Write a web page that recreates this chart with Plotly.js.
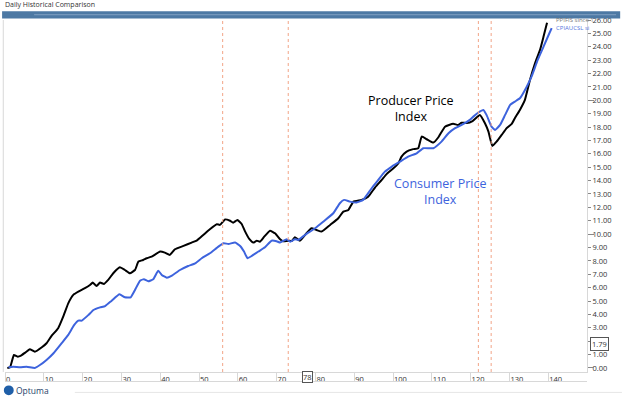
<!DOCTYPE html>
<html><head><meta charset="utf-8">
<script src="https://cdn.plot.ly/plotly-3.0.1.min.js"></script>
<style>html,body{margin:0;padding:0;background:#fff}#chart{width:624px;height:397px}</style>
</head><body><div id="chart"></div>
<script>
// Producer Price Index (black)
const ppiX = [0.6,1.3,2.3,3.2,4.0,5.2,6.4,7.7,9.5,10.7,12.0,13.7,15.0,16.3,17.6,18.9,20.6,21.9,22.6,23.6,24.5,25.5,26.6,27.9,29.6,30.9,32.2,33.5,34.4,35.6,
  36.5,37.8,40.0,41.2,42.5,43.8,46.0,48.1,49.4,51.1,52.8,54.6,55.4,56.7,58.0,58.8,59.9,61.0,61.9,63.0,64.0,64.9,65.7,66.8,68.3,69.6,70.9,71.7,73.0,73.9,74.7,76.0,
  77.7,79.0,80.3,81.6,83.8,85.9,87.2,88.5,89.8,91.9,93.6,95.4,97.1,98.4,100.1,101.4,102.2,103.5,105.2,106.5,107.4,108.7,110.4,111.7,113.4,115.5,116.8,117.7,119.0,
  120.5,122.4,123.7,124.6,125.6,126.7,128.0,129.3,130.6,131.4,132.7,134.0,135.3,136.6,137.9,138.8,139.7];
const ppiY = [0.0,0.05,0.97,0.85,0.9,1.15,1.4,1.22,1.55,1.85,2.4,2.97,3.83,4.83,5.46,5.7,5.96,6.2,6.38,6.13,6.38,6.28,6.58,7.08,7.52,7.32,7.08,7.32,7.95,8.07,
  8.2,8.32,8.7,8.62,8.45,8.87,9.12,9.37,9.52,9.94,10.37,10.74,10.69,11.1,11.0,10.86,11.06,10.76,10.19,9.62,9.37,9.51,9.44,9.81,10.26,10.06,9.62,9.47,9.51,9.49,9.77,9.51,
  10.07,10.44,10.31,10.19,10.69,11.19,11.68,11.81,12.43,12.56,12.8,13.5,14.05,14.5,14.92,15.3,15.79,16.17,16.35,16.42,17.29,17.09,16.84,17.24,18.03,18.24,18.16,18.33,18.3,
  18.45,18.91,18.29,17.66,16.59,16.91,17.41,17.92,18.24,18.66,19.28,20.03,21.52,22.77,23.77,24.76,25.8];
// Consumer Price Index (blue)
const cpiX = [0.9,2.1,3.9,5.6,7.7,9.0,10.7,12.5,14.6,16.3,17.8,18.9,19.8,21.5,22.8,24.5,25.8,27.5,29.5,30.9,32.4,33.5,34.8,35.8,36.9,38.2,39.5,40.4,41.7,42.9,
  45.1,47.2,49.0,50.7,52.8,55.0,56.3,57.6,59.3,60.6,61.6,62.5,63.6,65.3,67.0,68.7,70.0,70.9,72.6,73.5,74.7,75.6,77.3,79.9,82.0,84.6,86.3,87.4,88.9,90.6,92.3,
  94.5,96.2,97.9,99.7,101.8,103.9,106.1,107.8,110.4,112.5,114.3,116.0,117.7,119.8,120.7,122.0,123.3,124.1,125.4,126.3,127.6,128.9,130.2,131.4,132.7,134.4,135.7,137.3,138.8,140.3,140.9];
const cpiY = [0.05,0.1,0.05,0.1,0.0,0.22,0.6,1.1,1.85,2.47,3.2,3.54,3.54,3.96,4.33,4.53,4.63,5.03,5.5,5.28,5.28,5.83,6.52,6.63,6.48,6.63,7.27,6.95,6.75,6.88,
  7.32,7.62,7.82,8.2,8.57,9.07,9.32,9.27,9.37,9.12,8.7,8.2,8.37,8.7,9.02,9.51,9.47,9.37,9.62,9.44,9.62,9.57,9.94,10.44,10.93,11.56,12.31,12.56,12.43,12.36,12.56,
  13.43,14.05,14.67,15.05,15.42,15.79,16.04,16.42,16.42,16.91,17.54,17.92,18.16,18.54,18.78,19.09,19.28,18.91,18.03,17.79,18.16,18.91,19.66,19.9,20.15,20.98,21.77,23.02,24.01,25.01,25.39];
const eventX = [56.1, 73.0, 122.0, 125.3];
const xTicks = [0,10,20,30,40,50,60,70,80,90,100,110,120,130,140];
const yTicks = [0,1,2,3,4,5,6,7,8,9,10,11,12,13,14,15,16,17,18,19,20,21,22,23,24,25,26];
const lastValue = 1.79;
const markX = 78;

const FONT = "Open Sans, Noto Sans, sans-serif";
const traces = [
  {x: ppiX, y: ppiY, type: 'scatter', mode: 'lines', line: {color: '#000000', width: 2, shape: 'spline', smoothing: 0.4}, hoverinfo: 'skip'},
  {x: cpiX, y: cpiY, type: 'scatter', mode: 'lines', line: {color: '#3d63dd', width: 2, shape: 'spline', smoothing: 0.4}, hoverinfo: 'skip'},
  {x: [0], y: [0], yaxis: 'y2', type: 'scatter', mode: 'markers', marker: {opacity: 0}, hoverinfo: 'skip'}
];

const shapes = eventX.map(v => ({type: 'line', xref: 'x', yref: 'paper', x0: v, x1: v, y0: 0, y1: 1,
  line: {color: '#f2a487', width: 1, dash: 'dot'}}));
// navigator bar
shapes.push({type: 'rect', xref: 'paper', yref: 'paper', x0: -0.005, x1: 1.057, y0: 1.004, y1: 1.025, fillcolor: '#4d79a4', line: {width: 0}});
shapes.push({type: 'line', xref: 'paper', yref: 'paper', x0: 0.05, x1: 1.05, y0: 1.015, y1: 1.015, line: {color: '#7fa1c2', width: 1}});
// bottom axis box lower edge
shapes.push({type: 'line', xref: 'paper', yref: 'paper', x0: 0, x1: 1, y0: -0.027, y1: -0.027, line: {color: '#d8d8d8', width: 1}});
shapes.push({type: 'line', xref: 'paper', yref: 'paper', x0: 0.12, x1: 1.06, y0: -0.058, y1: -0.058, line: {color: '#e6e6e6', width: 1}});
shapes.push({type: 'line', xref: 'paper', yref: 'paper', x0: -0.003, x1: -0.003, y0: 0, y1: 1, line: {color: '#d8d8d8', width: 1}});
// Optuma logo mark
shapes.push({type: 'circle', xref: 'paper', yref: 'paper', x0: -0.002, x1: 0.015, y0: -0.066, y1: -0.038, fillcolor: '#1f5fa8', line: {width: 0}});

const annotations = [
  {xref: 'paper', yref: 'paper', x: -0.003, y: 1.043, xanchor: 'left', yanchor: 'middle', showarrow: false,
   text: 'Daily Historical Comparison', font: {family: FONT, size: 7, color: '#333'}},
  {xref: 'x', yref: 'y', x: 104.6, y: 19.4, showarrow: false, text: 'Producer Price<br>Index',
   font: {family: FONT, size: 12.5, color: '#000'}, align: 'center'},
  {xref: 'x', yref: 'y', x: 112.1, y: 13.2, showarrow: false, text: 'Consumer Price<br>Index',
   font: {family: FONT, size: 12.5, color: '#3d63dd'}, align: 'center'},
  {xref: 'paper', yref: 'paper', x: 0.943, y: 1.0, xanchor: 'left', yanchor: 'middle', showarrow: false, text: 'PPIFIS since 1',
   font: {family: FONT, size: 6, color: '#777'}},
  {xref: 'paper', yref: 'paper', x: 0.943, y: 0.977, xanchor: 'left', yanchor: 'middle', showarrow: false, text: 'CPIAUCSL si',
   font: {family: FONT, size: 6, color: '#5577dd'}},
  {xref: 'paper', yref: 'y', x: 1.005, y: lastValue, xanchor: 'left', yanchor: 'middle', showarrow: false, text: lastValue.toFixed(2),
   font: {family: FONT, size: 7.5, color: '#333'}, bgcolor: '#fff', bordercolor: '#555', borderwidth: 1, borderpad: 1},
  {xref: 'x', yref: 'paper', x: markX, y: -0.0135, xanchor: 'center', yanchor: 'middle', showarrow: false, text: String(markX),
   font: {family: FONT, size: 7.5, color: '#333'}, bgcolor: '#fff', bordercolor: '#555', borderwidth: 1, borderpad: 0},
  {xref: 'paper', yref: 'paper', x: 0.016, y: -0.052, xanchor: 'left', yanchor: 'middle', showarrow: false, text: 'Optuma',
   font: {family: FONT, size: 8.5, color: '#1f3f6a'}}
];

const layout = {
  width: 624, height: 397,
  margin: {l: 5, r: 37, t: 20, b: 25, pad: 0},
  paper_bgcolor: '#ffffff', plot_bgcolor: '#ffffff',
  showlegend: false,
  xaxis: {range: [0, 150], tickvals: xTicks, ticktext: xTicks.map(String), ticks: 'outside', ticklen: 9, tickcolor: '#d8d8d8',
    ticklabelposition: 'outside right', showgrid: false, zeroline: false, showline: true, linecolor: '#d8d8d8', linewidth: 1,
    tickfont: {family: FONT, size: 7.5, color: '#333'}, fixedrange: true},
  yaxis: {range: [-0.3, 26.0], side: 'right', tickvals: yTicks, ticktext: yTicks.map(v => v === 2 ? '' : v.toFixed(2)), ticks: 'outside', ticklen: 3,
    tickcolor: '#888', showgrid: false, zeroline: false, showline: true, linecolor: '#d8d8d8', linewidth: 1,
    tickfont: {family: FONT, size: 7.5, color: '#333'}, fixedrange: true},
  yaxis2: {range: [-0.3, 26.0], overlaying: 'y', side: 'right', tickvals: [0,10,20], ticks: 'outside', ticklen: 6, tickcolor: '#888',
    showticklabels: false, showgrid: false, zeroline: false, showline: false, fixedrange: true},
  shapes: shapes,
  annotations: annotations
};
Plotly.newPlot('chart', traces, layout, {staticPlot: true, displayModeBar: false});
</script></body></html>
